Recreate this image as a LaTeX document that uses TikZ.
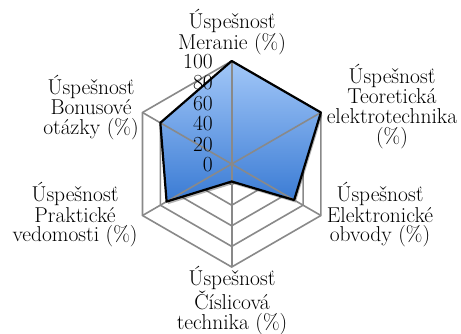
\documentclass[tikz,border=0pt]{standalone}
\usetikzlibrary{shadows,calc}
\definecolor{gridgray}{HTML}{898989}
\definecolor{topblue}{HTML}{A2C7F8}
\definecolor{botblue}{HTML}{3A7BD4}
\begin{document}
\begin{tikzpicture}[x=1pt,y=-1pt,
  grid/.style={draw=gridgray, line width=1.6pt, line join=miter},
  lbl/.style={align=center, inner sep=0pt, anchor=base, font=\fontsize{21.5}{20}\selectfont},
  ticklbl/.style={inner sep=0pt, anchor=east, font=\fontsize{21.5}{20}\selectfont}]
\useasboundingbox[fill=white] (0,0) rectangle (461,334);
\coordinate (O) at (231.7,164);
\def\R{103}
% rings
\foreach \k in {1,...,5}{
  \draw[grid,shift={(O)}] (-90:\k*\R/5) -- (-30:\k*\R/5) -- (30:\k*\R/5)
    -- (90:\k*\R/5) -- (150:\k*\R/5) -- (210:\k*\R/5) -- cycle;
}
% axis ends
\coordinate (A1) at ($(O)+(-90:\R)$);
\coordinate (A2) at ($(O)+(-30:\R)$);
\coordinate (A3) at ($(O)+(30:\R)$);
\coordinate (A4) at ($(O)+(90:\R)$);
\coordinate (A5) at ($(O)+(150:\R)$);
\coordinate (A6) at ($(O)+(210:\R)$);
% data points
\coordinate (D1) at ($(O)+(-90:1.00*\R)$);
\coordinate (D2) at ($(O)+(-30:1.00*\R)$);
\coordinate (D3) at ($(O)+(30:0.70*\R)$);
\coordinate (D4) at ($(O)+(90:0.17*\R)$);
\coordinate (D5) at ($(O)+(150:0.73*\R)$);
\coordinate (D6) at ($(O)+(210:0.80*\R)$);
% filled area
\path[top color=topblue, bottom color=botblue,
  drop shadow={shadow xshift=1.5pt, shadow yshift=-2.5pt, opacity=0.3, fill=black}]
  (D1) -- (D2) -- (D3) -- (D4) -- (D5) -- (D6) -- cycle;
% spokes
\draw[grid] (A1) -- (A4);
\draw[grid] (A2) -- (A5);
\draw[grid] (A3) -- (A6);
% outline
\draw[line width=2.2pt, line join=round] (D1) -- (D2) -- (D3) -- (D4) -- (D5) -- (D6) -- cycle;
% tick labels
\node[ticklbl] (t100) at (213,62) {100};
\node[ticklbl] (t80) at (213,82.6) {80};
\node[ticklbl] (t60) at (213,103.2) {60};
\node[ticklbl] (t40) at (213,123.8) {40};
\node[ticklbl] (t20) at (213,144.4) {20};
\node[ticklbl] (t0) at (213,165) {0};
% axis labels (anchor=base is the baseline of the last line)
\node[lbl] (L1) at (232,50) {Úspešnosť\\Meranie (\%)};
\node[lbl] (L2) at (392,144) {Úspešnosť\\Teoretická\\elektrotechnika\\(\%)};
\node[lbl] (L3) at (380,242) {Úspešnosť\\Elektronické\\obvody (\%)};
\node[lbl] (L4) at (232,329) {Úspešnosť\\Číslicová\\technika (\%)};
\node[lbl] (L5) at (75,242) {Úspešnosť\\Praktické\\vedomosti (\%)};
\node[lbl] (L6) at (91,135) {Úspešnosť\\Bonusové\\otázky (\%)};
\end{tikzpicture}
\end{document}
